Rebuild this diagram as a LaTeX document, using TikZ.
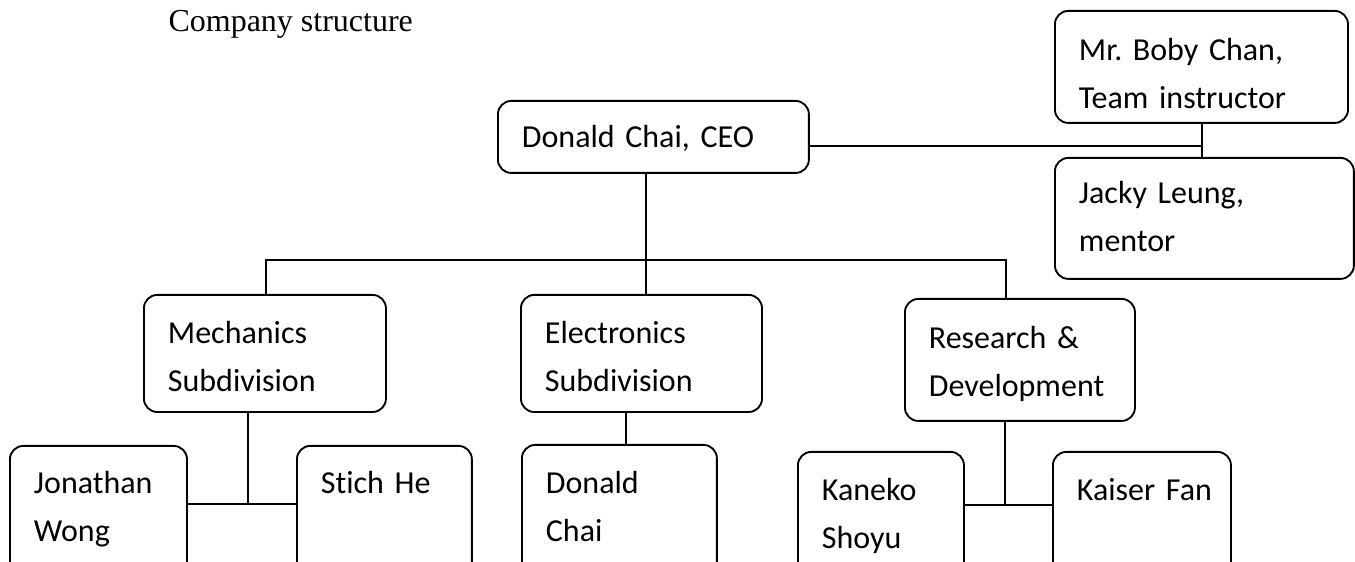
\documentclass[tikz,border=0pt]{standalone}
\usepackage{fontspec}
\setmainfont{Liberation Serif}
\newfontfamily\boxfont[Ligatures=NoCommon]{Carlito}
\frenchspacing
\begin{document}
\begin{tikzpicture}[x=0.375pt, y=-0.375pt,
    orgbox/.style={draw, line width=0.7pt, rounded corners=5pt, anchor=north west,
      align=left, inner xsep=9pt, inner ysep=0pt,
      font=\boxfont\fontsize{12pt}{18pt}\selectfont},
    link/.style={line width=0.55pt}]
  \useasboundingbox (0,0) rectangle (1355,562);
  \clip (0,0) rectangle (1355,562);

  % title
  \node[anchor=base west, inner sep=0pt, font=\fontsize{12pt}{14pt}\selectfont] (title) at (168,32) {Company structure};

  % top level and advisors
  \node[orgbox, text width=98.6pt, text height=17.6pt, text depth=9.4pt] (ceo) at (497,100) {Donald Chai, CEO};
  \node[orgbox, text width=91.9pt, text height=18.75pt, text depth=23.25pt] (boby) at (1054,10) {Mr. Boby Chan,\\Team instructor};
  \node[orgbox, text width=94.1pt, text height=17.25pt, text depth=28.1pt] (jacky) at (1054,157) {Jacky Leung,\\mentor};

  % subdivisions
  \node[orgbox, text width=72.75pt, text height=18.4pt, text depth=25.5pt] (mech) at (143,294) {Mechanics\\Subdivision};
  \node[orgbox, text width=72.4pt, text height=18.4pt, text depth=25.5pt] (elec) at (520,294) {Electronics\\Subdivision};
  \node[orgbox, text width=68.25pt, text height=18.75pt, text depth=27pt] (rd) at (904,298) {Research \&\\Development};

  % members
  \node[orgbox, text width=48.4pt, text height=18pt, text depth=32.6pt] (jon) at (9,445) {Jonathan\\Wong};
  \node[orgbox, text width=47.6pt, text height=18pt, text depth=32.6pt] (stich) at (296,445) {\mbox{Stich He}};
  \node[orgbox, text width=55.1pt, text height=18.4pt, text depth=32.6pt] (donald) at (521,444) {Donald\\Chai};
  \node[orgbox, text width=44.25pt, text height=18.4pt, text depth=32.6pt] (kaneko) at (797,451) {Kaneko\\Shoyu};
  \node[orgbox, text width=48.75pt, text height=18.4pt, text depth=32.6pt] (kaiser) at (1052,451) {\mbox{Kaiser Fan}};

  % junction points
  \coordinate (busL) at (266,260);
  \coordinate (busM) at (646,260);
  \coordinate (busR) at (1006,260);
  \coordinate (mechjoin) at (248,504);
  \coordinate (elecjoin) at (626,430);
  \coordinate (rdjoin) at (1005,505);
  \coordinate (advjoin) at (1202,146);

  % advisors
  \draw[link] (ceo.east |- advjoin) -- (advjoin);
  \draw[link] (boby.south -| advjoin) -- (jacky.north -| advjoin);

  % ceo to subdivisions
  \draw[link] (ceo.south -| busM) -- (busM |- elec.north);
  \draw[link] (busL |- mech.north) -- (busL) -- (busR) -- (busR |- rd.north);

  % subdivisions to members
  \draw[link] (mech.south -| mechjoin) -- (mechjoin);
  \draw[link] (jon.east |- mechjoin) -- (stich.west |- mechjoin);
  \draw[link] (elec.south -| elecjoin) -- (donald.north -| elecjoin);
  \draw[link] (rd.south -| rdjoin) -- (rdjoin);
  \draw[link] (kaneko.east |- rdjoin) -- (kaiser.west |- rdjoin);
\end{tikzpicture}
\end{document}
